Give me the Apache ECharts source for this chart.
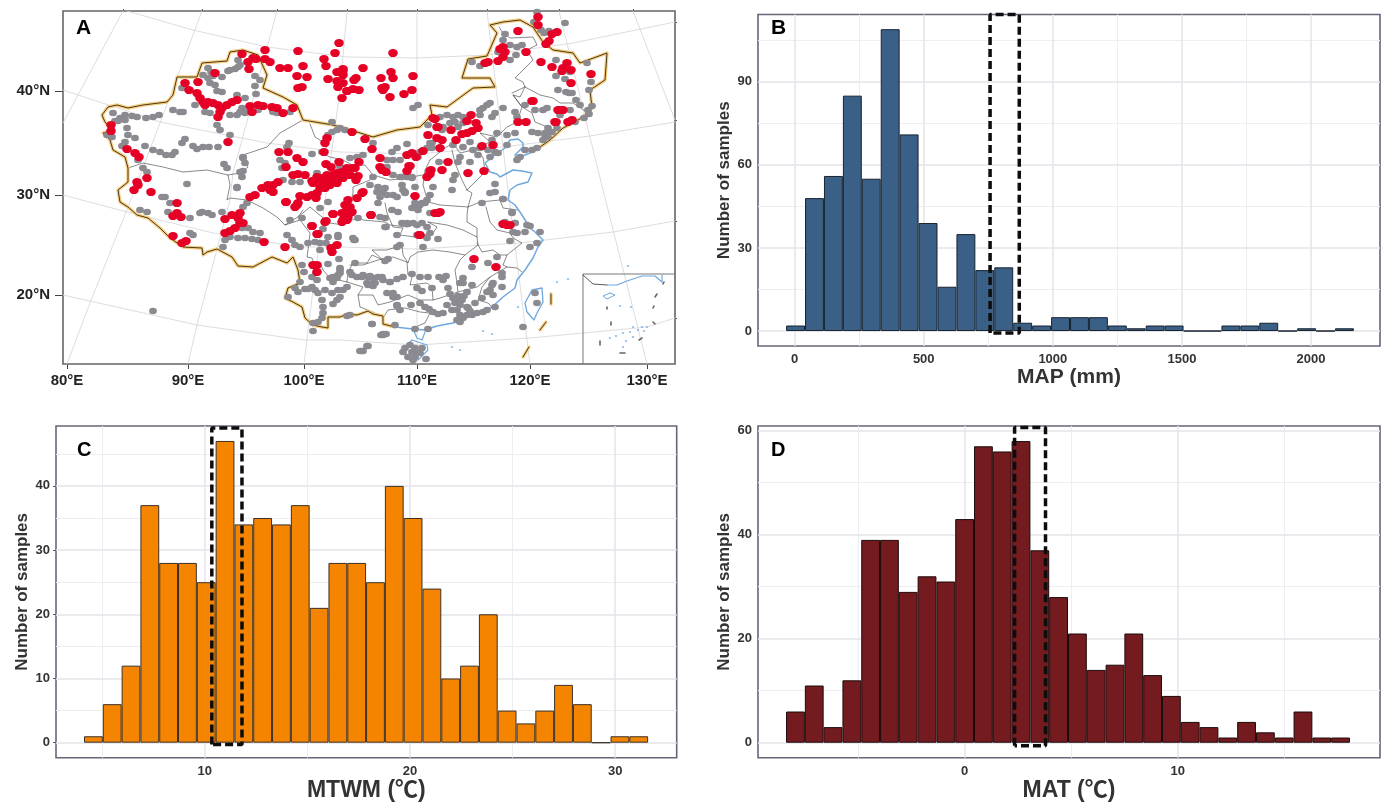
<!DOCTYPE html>
<html><head><meta charset="utf-8">
<style>html,body{margin:0;padding:0;background:#fff}#c{width:1386px;height:804px}</style>
<script src="https://cdn.jsdelivr.net/npm/echarts@6/dist/echarts.min.js"></script>
</head><body><div id="c"></div>
<script>
// ---------- histogram data (counts per bin) ----------
const mapCounts = [2,48,56,85,55,109,71,39,16,35,22,23,3,2,5,5,5,2,1,2,2,0,0,2,2,3,0,1,0,1];
const mtwmCounts = [1,6,12,37,28,28,25,47,34,35,34,37,21,28,28,25,40,35,24,10,12,20,5,3,5,9,6,0,1,1];
const matCounts = [6,11,3,12,39,39,29,32,31,43,57,56,58,37,28,21,14,15,21,13,9,4,3,1,4,2,1,6,1,1];
const mapFirstEdge = -33, mapBinWidth = 73.3;
const mtwmFirstEdge = 4.11, mtwmBinWidth = 0.9166;
const matFirstEdge = -8.37, matBinWidth = 0.8817;
const mapXTicks = [0,500,1000,1500,2000], mapYTicks = [0,30,60,90];
const mtwmXTicks = [10,20,30], mtwmYTicks = [0,10,20,30,40];
const matXTicks = [0,10], matYTicks = [0,20,40,60];
const mapBox = [[757,-0.7],[757,114.3],[870,114.3],[870,-0.7],[757,-0.7]];
const mtwmBox = [[10.34,-0.3],[10.34,49],[11.81,49],[11.81,-0.3],[10.34,-0.3]];
const matBox = [[2.35,-0.6],[2.35,60.6],[3.8,60.6],[3.8,-0.6],[2.35,-0.6]];

// ---------- map panel data, in projected map units ----------
const lonTicks = [67,188,304,417,530,647];
const lonLabels = ['80°E','90°E','100°E','110°E','120°E','130°E'];
const latTicks = [91,195,295];
const latLabels = ['40°N','30°N','20°N'];
const topTicks = [123,202,277,347,417,487,559,633];
const rightTicks = [22,120,221,318];

const graticule = [
 [[67,364],[90,303],[128,207],[160,123],[202,11]],
 [[188,364],[197,325],[230,200],[233,173],[277,11]],
 [[304,364],[313,290],[340,90],[347,11]],
 [[417,364],[417,190],[417,11]],
 [[530,364],[508,190],[487,11]],
 [[647,364],[603,190],[559,11]],
 [[633,11],[675,120]],
 [[63,123],[123,11]],
 [[127,11],[193,30],[267,47],[347,57],[417,58],[487,55],[573,43],[675,22]],
 [[63,90],[160,122],[267,143],[340,152],[417,154],[503,147],[590,136],[675,122]],
 [[63,195],[127,212],[213,233],[300,247],[340,247],[417,249],[520,243],[613,232],[675,221]],
 [[63,295],[197,325],[304,340],[340,340],[417,345],[530,338],[647,327],[675,318]]
];
const provinces = [
 [[128,168],[143,163],[163,167],[183,172],[207,170],[228,175],[230,185],[227,200],[230,198],[247,200],[263,208],[277,217],[285,225],[298,217],[303,210]],
 [[303,120],[280,133],[267,147],[243,155],[248,167],[240,173],[228,175]],
 [[310,124],[315,137],[328,145],[322,153],[330,157],[343,160],[352,165],[365,165],[373,175],[370,180],[353,187],[353,193],[352,197]],
 [[298,217],[310,207],[322,217],[330,223],[343,225],[358,217],[363,220],[385,222],[390,225],[407,227]],
 [[285,225],[300,220],[310,233],[308,250],[307,257],[312,258],[315,265],[312,275]],
 [[373,175],[390,180],[407,178],[422,175]],
 [[385,203],[387,213],[393,227],[403,228],[400,235],[415,237],[433,233],[437,227],[428,222]],
 [[402,245],[403,255],[408,263],[410,257],[418,252],[433,250],[450,252],[465,255],[478,245],[477,237],[463,230],[447,225],[428,222]],
 [[350,265],[363,265],[378,260],[393,257],[407,262],[408,275],[413,273],[410,285],[427,283],[432,287],[433,300],[440,298],[458,292],[457,283],[455,270],[460,260],[465,255]],
 [[320,263],[323,270],[330,278],[347,282],[348,272],[353,263],[367,263],[372,255],[383,260],[372,250],[375,250],[387,250],[402,245]],
 [[347,282],[363,287],[358,295],[373,295],[378,305],[390,302],[408,295],[420,300],[433,300]],
 [[358,295],[360,307],[373,312],[383,318],[388,310],[405,308],[420,312],[430,313],[425,323],[413,328]],
 [[458,292],[477,287],[490,277],[507,267],[517,268],[522,272]],
 [[490,277],[482,287],[478,300],[488,303],[495,310]],
 [[477,243],[482,252],[493,250],[500,255],[507,255],[503,265],[507,267]],
 [[507,255],[522,243],[513,238],[510,233],[497,230],[490,222],[486,207]],
 [[467,190],[472,193],[468,207],[480,202],[500,200],[503,208],[517,210]],
 [[468,207],[467,215],[467,222],[477,228],[477,237]],
 [[452,150],[455,163],[462,180],[467,190]],
 [[430,160],[425,170],[423,185],[428,202],[440,205],[468,207]],
 [[430,160],[445,148],[453,143],[460,153],[473,150],[483,157],[485,172],[467,190]],
 [[473,150],[490,142],[480,133],[497,137],[507,127],[517,122],[522,107],[513,95],[520,97],[525,87]],
 [[499,27],[503,33],[510,38],[533,37],[537,45],[527,50],[533,60],[523,70],[515,78],[523,82],[525,87],[512,93]],
 [[525,87],[540,95],[553,98],[560,103],[573,103],[588,113]],
 [[513,95],[522,107],[532,113],[535,122],[550,128]]
];
const nationalBorder = [[395,327],[383,324],[383,316],[373,314],[368,311],[357,315],[347,314],[340,317],[328,317],[328,328],[322,327],[313,325],[305,318],[302,307],[293,302],[285,298],[288,288],[300,283],[298,270],[293,257],[287,263],[272,257],[253,267],[238,266],[232,257],[217,249],[207,252],[203,255],[202,248],[183,247],[170,238],[160,228],[148,218],[137,215],[128,207],[120,202],[118,190],[120,188],[128,182],[128,168],[125,157],[113,150],[110,140],[103,133],[112,130],[105,122],[102,115],[108,107],[117,105],[128,108],[143,105],[167,102],[173,95],[177,77],[197,77],[202,63],[227,61],[230,52],[243,50],[258,55],[267,75],[263,88],[283,97],[297,105],[303,120],[333,125],[350,130],[357,132],[373,137],[397,130],[420,127],[432,115],[430,105],[447,107],[473,88],[495,87],[490,78],[462,78],[468,59],[487,56],[497,33],[490,25],[503,22],[520,20],[533,27],[543,42],[553,50],[573,53],[580,63],[607,53],[605,80],[590,90],[592,108],[583,117],[573,123],[563,128],[550,140],[540,147]];
const seaDashes = [[[551,294],[551,304]],[[540,330],[546,322]],[[523,357],[529,347]]];
const coastLine = [[540,147],[530,153],[525,155],[520,157],[517,160],[515,155],[523,147],[523,143],[518,139],[510,140],[505,148],[495,155],[485,163],[490,172],[497,174],[500,177],[513,170],[522,171],[532,173],[528,182],[517,185],[510,190],[508,200],[515,205],[522,215],[530,228],[535,232],[543,240],[538,247],[533,258],[525,270],[517,280],[515,288],[503,297],[492,307],[473,315],[453,323],[437,326],[425,330],[413,329],[395,327]];
const leizhou = [[413,329],[417,338],[422,340],[425,332]];
const hainan = [[412,340],[427,345],[428,350],[418,360],[407,358],[404,348],[412,340]];
const taiwan = [[525,303],[532,290],[542,288],[543,302],[537,313],[534,320],[527,312],[525,303]];
const insetFrame = [[583,364],[583,274],[675,274]];
const insetLand = [[583,275],[593,284],[607,285]];
const insetCoast = [[607,285],[617,285],[627,281],[642,276],[655,276],[662,282],[662,275]];
const insetIsland = [[610,293],[615,295],[607,299],[603,296],[610,293]];
const insetDashes = [[[663,284],[664,282]],[[655,297],[657,294]],[[653,308],[654,306]],[[607,309],[607,307]],[[611,325],[611,322]],[[600,345],[600,341]],[[620,353],[625,353]],[[642,338],[639,340]],[[655,324],[653,322]]];
const islands = [[620,306],[631,307],[633,327],[642,327],[647,327],[630,332],[623,333],[610,338],[633,337],[623,347],[483,331],[492,334],[452,347],[460,350],[518,307],[557,282],[568,279],[628,266],[638,330],[616,336],[626,341],[644,331]];

const graySites = [
[238,60],[240,65],[235,69],[230,70],[238,67],[228,71],[208,68],[211,72],[203,75],[208,78],[213,76],[222,77],[210,83],[215,85],[217,91],[222,92],[255,76],[260,80],[255,86],[256,94],[182,88],
[237,95],[245,98],[195,105],[205,112],[210,113],[230,115],[237,115],[242,108],[245,113],[258,110],[273,112],[277,113],[290,112],[217,125],[220,130],[173,110],[180,112],[183,112],
[113,113],[115,121],[120,118],[125,115],[132,116],[137,117],[118,121],[125,120],[146,118],[153,117],[159,115],[127,128],[107,135],[112,137],[128,135],[135,138],[125,142],[122,146],[138,160],[145,146],[153,150],[160,152],[166,155],[172,155],[175,152],[182,143],[185,139],[193,146],[197,149],[203,147],[209,147],[218,147],[230,135],[224,164],[227,168],[243,157],[243,171],[237,187],[187,184],[162,197],[165,197],[143,168],[147,172],
[140,210],[147,212],[170,203],[168,212],[190,218],[200,213],[202,212],[208,213],[212,215],[222,212],[193,235],[190,233],[153,311],[313,331],
[247,203],[243,207],[242,228],[248,228],[253,232],[260,233],[225,240],[223,247],[230,237],[238,238],[245,238],[252,239],[258,240],[287,235],[292,240],[295,245],[300,247],[308,243],[315,242],[320,243],[326,243],[323,229],[328,237],[338,237],[320,250],[339,259],
[302,265],[304,272],[300,282],[295,288],[288,297],[298,292],[312,277],[317,280],[312,287],[315,290],[318,293],[322,300],[323,307],[323,313],[322,318],[318,322],[313,323],[305,289],[308,289],[325,290],[332,293],[338,290],[343,290],[340,297],[333,304],[337,300],[347,287],[340,270],[338,275],[347,316],[333,277],[350,272],[328,264],
[350,315],[372,324],[383,335],[381,335],[362,351],[368,346],[340,268],[340,273],[337,278],[333,282],[330,278],[355,263],[362,277],[368,277],[373,278],[382,277],[390,282],[367,283],[373,286],[387,293],[393,297],[397,305],[355,240],
[354,240],[386,227],[408,224],[400,245],[397,247],[423,247],[438,239],[427,238],[430,233],[420,277],[428,277],[439,277],[446,276],[443,280],[388,259],[385,261],[412,274],[403,277],[397,279],[390,282],[383,280],[378,277],[370,276],[363,275],[357,277],[352,275],[370,284],[375,283],[368,285],[393,293],[397,297],[417,288],[422,291],[432,288],
[448,288],[450,294],[453,298],[457,300],[462,300],[463,278],[463,283],[467,292],[460,283],[472,285],[475,303],[482,298],[447,305],[460,305],[467,307],[457,310],[452,310],[460,315],[467,315],[472,315],[463,318],[457,320],[460,322],[477,313],[468,308],[455,303],[458,296],[464,296],[470,311],
[397,306],[400,310],[411,305],[420,303],[425,307],[433,312],[438,314],[443,313],[429,309],[395,325],[372,324],[383,334],[386,334],[415,329],[428,329],[367,346],[363,351],[360,351],
[405,348],[410,345],[415,348],[422,348],[403,352],[412,352],[418,353],[408,357],[415,357],[413,360],[420,353],[426,359],
[472,267],[493,283],[490,290],[493,295],[502,287],[497,257],[488,263],[502,273],[502,277],[492,285],[487,292],[495,307],[487,310],[483,312],
[510,241],[517,233],[513,232],[527,225],[540,232],[537,243],[530,247],[525,232],[512,213],[515,223],[530,226],[503,199],[523,327],[535,293],[537,303],
[240,112],[247,112],[273,110],[332,122],[337,130],[340,128],[332,132],[328,135],[345,130],[289,143],[287,147],[325,142],[322,152],[312,154],[243,158],[245,163],[240,172],[242,177],[237,188],[280,160],[285,163],[282,168],[283,180],[292,182],[300,182],[317,173],[340,167],[350,158],[357,157],[363,155],[373,143],
[392,152],[397,148],[407,144],[430,143],[427,148],[420,152],[387,160],[393,160],[400,160],[387,167],[393,175],[400,177],[407,177],[412,177],[373,177],[370,185],[378,187],[385,188],[377,192],[383,192],[387,195],[393,195],[397,197],[403,190],[405,193],[402,185],[380,197],[378,203],[422,203],[427,200],[417,207],[433,187],[430,195],
[320,208],[328,202],[380,217],[385,218],[392,210],[398,212],[407,223],[430,213],[427,227],[417,225],[385,227],[417,235],[397,235],[338,235],[353,238],[358,218],[302,218],[290,220],
[413,108],[418,105],[428,125],[433,118],[440,117],[447,115],[453,117],[458,115],[463,117],[455,122],[450,123],[443,127],[442,130],[458,127],[463,123],[480,115],[483,108],[487,105],[490,103],[480,110],[492,117],[495,113],[503,108],[515,112],[517,117],[525,105],[543,110],[547,108],[532,132],[538,133],[545,135],[552,132],[557,128],[515,133],[507,135],[507,145],[497,133],[492,140],[488,150],[495,152],[498,153],[490,157],[525,150],[532,150],[537,148],[520,157],[517,160],[543,140],[548,137],[432,143],[432,148],[453,145],[470,142],[463,147],[460,157],[458,162],[473,150],[478,155],[480,148],[470,162],[439,162],[455,175],[453,180],[418,157],[402,177],[412,178],[415,187],[405,192],[420,205],[425,203],[415,203],[452,190],[495,184],[495,192],[490,193],[503,199],[512,212],[505,222],[515,223],[482,203],[418,210],[412,208],[413,223],[422,223],[402,223],
[503,40],[510,45],[498,52],[505,34],[522,45],[517,47],[534,22],[537,12],[541,30],[565,23],[549,31],[544,33],[556,60],[556,76],[565,79],[570,72],[558,90],[566,92],[569,93],[587,63],[591,82],[589,90],[576,100],[572,93],[580,105],[588,110],[592,106],[589,114],[570,110],[535,110],[560,115],[575,122],[584,118],[548,128],[545,133],[472,62],[480,66],[510,60],[516,55]
];
const redSites = [
[242,54],[248,62],[253,58],[256,59],[265,50],[265,59],[270,62],[249,69],[280,68],[288,68],[298,51],[303,66],[297,76],[307,77],[298,88],[302,87],[324,59],[326,66],[335,53],[339,43],[328,79],[337,72],[343,69],[343,75],[337,81],[343,83],[338,87],[347,91],[342,98],[215,73],[185,83],[198,82],
[189,90],[197,93],[200,98],[203,102],[208,102],[205,105],[213,103],[218,105],[222,108],[227,105],[232,102],[237,100],[220,112],[218,117],[250,106],[258,105],[263,106],[252,112],[272,107],[277,108],[283,113],[293,108],[228,142],
[111,125],[111,131],[127,149],[135,153],[139,157],[147,178],[137,182],[138,185],[134,190],[151,192],
[177,203],[177,213],[173,216],[181,217],[173,236],[182,243],[186,241],
[225,219],[232,215],[240,213],[238,218],[240,223],[243,223],[235,228],[230,231],[225,233],[264,242],[285,247],[286,202],[297,205],[312,226],[317,234],[313,265],[317,265],[317,272],[337,245],[332,252],[331,248],[325,222],[333,214],
[352,132],[365,139],[372,149],[327,138],[325,143],[324,152],[279,152],[288,152],[297,158],[303,162],[286,167],[326,164],[331,167],[339,162],[359,162],[293,175],[298,174],[305,175],
[312,181],[317,177],[322,178],[327,175],[332,175],[337,173],[342,172],[347,168],[352,168],[355,168],[347,173],[350,175],[358,176],[356,180],[343,178],[338,178],[333,180],[328,182],[323,182],[318,182],[313,183],[337,183],[330,185],[325,188],[320,188],[317,193],[312,195],[307,197],[300,196],[316,198],[278,182],[273,185],[268,185],[262,188],[270,190],[273,192],[255,195],[250,197],[286,202],[298,203],[295,207],
[363,192],[357,198],[348,200],[345,205],[350,207],[347,210],[352,212],[342,213],[333,214],[348,217],[343,220],[347,220],[342,222],[371,215],[326,221],[312,226],[318,234],[415,196],[419,235],[380,158],[380,167],[382,170],[386,172],[407,155],[412,153],[416,157],[423,151],[410,166],[407,171],[430,171],[427,177],[435,213],[440,212],[433,118],[437,127],[428,135],
[435,119],[438,127],[437,138],[442,140],[451,130],[440,148],[462,134],[467,121],[471,115],[476,123],[478,128],[472,131],[467,133],[456,140],[482,146],[493,145],[448,162],[442,170],[431,170],[430,174],[468,173],[484,171],[438,213],[518,122],[526,122],[555,122],[568,122],[560,110],[563,110],[532,101],[409,166],[503,224],[507,225],[510,225],
[538,17],[538,25],[518,31],[552,34],[557,32],[549,41],[546,44],[503,47],[500,49],[505,52],[503,57],[498,61],[488,62],[485,63],[526,52],[541,62],[552,67],[567,63],[563,68],[562,71],[571,70],[591,74],[571,83],[393,53],[363,68],[391,72],[393,78],[381,78],[413,76],[356,78],[354,80],[343,71],[353,89],[359,90],[347,91],[382,88],[385,87],[383,90],[390,97],[404,94],[412,90],[533,101],[558,110],[556,122],[572,120],[420,235],[504,224],[474,259],[496,267],[371,215],[362,193]
];

// ---------- helpers ----------
const sans = "'Liberation Sans','Noto Sans CJK SC',sans-serif";
const panelStroke = '#66667a';
const grids = [], xAxes = [], yAxes = [], series = [];

function mapLine(data, color, width, z, opacity) {
  series.push({type:'line', xAxisIndex:0, yAxisIndex:0, data, symbol:'none', silent:true, animation:false, z,
    lineStyle:{color, width, opacity: opacity==null?1:opacity, join:'round', cap:'round'}});
}

function addHistogram(idx, cfg) {
  grids.push({left:cfg.left, top:cfg.top, width:cfg.width, height:cfg.height, show:true, borderColor:panelStroke, borderWidth:1.6, backgroundColor:'#fff', z:1, outerBoundsMode:'none'});
  const lab = {color:'#333', fontFamily:sans, fontWeight:'bold', fontSize:13, formatter:v=>String(v)};
  xAxes.push({type:'value', gridIndex:idx, min:cfg.xMin, max:cfg.xMax, name:cfg.xName, nameLocation:'center', nameGap:21,
    nameTextStyle:{fontFamily:sans, fontWeight:'bold', fontSize:cfg.xNameSize, color:'#333'},
    axisLine:{show:false}, axisTick:{show:true,length:3,customValues:cfg.xTicks,lineStyle:{color:'#555'}},
    axisLabel:Object.assign({margin:7,customValues:cfg.xTicks},lab), splitLine:{show:false}});
  yAxes.push({type:'value', gridIndex:idx, min:cfg.yMin, max:cfg.yMax, name:'Number of samples', nameLocation:'center', nameGap:cfg.yGap,
    nameTextStyle:{fontFamily:sans, fontWeight:'bold', fontSize:17, color:'#333'},
    axisLine:{show:false}, axisTick:{show:true,length:3,customValues:cfg.yTicks,lineStyle:{color:'#555'}},
    axisLabel:Object.assign({margin:6,customValues:cfg.yTicks},lab), splitLine:{show:false}});
  // grid lines, beneath the bars
  const gridLine = (vals, key, color, width) => vals.map(v => ({[key]:v, lineStyle:{color, width, type:'solid'}}));
  series.push({type:'line', xAxisIndex:idx, yAxisIndex:idx, data:[], silent:true, animation:false, z:1,
    markLine:{silent:true, z:1, symbol:'none', animation:false, label:{show:false},
      data: [].concat(
        gridLine(cfg.xMinor,'xAxis','#eeeef2',1), gridLine(cfg.yMinor,'yAxis','#eeeef2',1),
        gridLine(cfg.xTicks,'xAxis','#e4e4ea',1.5), gridLine(cfg.yTicks,'yAxis','#e4e4ea',1.5))}});
  series.push({type:'bar', xAxisIndex:idx, yAxisIndex:idx, barWidth:cfg.barPx, animation:false, z:3,
    data: cfg.counts.map((c,i)=>[cfg.first + (i+0.5)*cfg.bw, c]),
    itemStyle:{color:cfg.fill, borderColor:cfg.edge, borderWidth:1}});
  series.push({type:'line', xAxisIndex:idx, yAxisIndex:idx, data:cfg.box, symbol:'none', clip:false, silent:true, animation:false, z:5,
    lineStyle:{color:'#0d0d0d', width:3.5, type:[8,4]}});
}

// ---------- panel A ----------
grids.push({left:63, top:11, width:612, height:353, show:true, borderColor:'#666', borderWidth:1.6, backgroundColor:'#fff', z:1, outerBoundsMode:'none'});
const mapLab = {color:'#222', fontFamily:sans, fontWeight:'bold', fontSize:15};
xAxes.push({type:'value', gridIndex:0, min:63, max:675, position:'bottom', axisLine:{show:false}, splitLine:{show:false},
  axisTick:{show:true,length:5,customValues:lonTicks,lineStyle:{color:'#444'}},
  axisLabel:Object.assign({margin:9,customValues:lonTicks,formatter:v=>lonLabels[lonTicks.indexOf(v)]||''},mapLab)});
yAxes.push({type:'value', gridIndex:0, min:11, max:364, inverse:true, position:'left', axisLine:{show:false}, splitLine:{show:false},
  axisTick:{show:true,length:8,customValues:latTicks,lineStyle:{color:'#444'}},
  axisLabel:Object.assign({margin:13,customValues:latTicks,formatter:v=>latLabels[latTicks.indexOf(v)]||''},mapLab)});

graticule.forEach(l=>mapLine(l,'#d4d4d8',0.8,2));
provinces.forEach(l=>mapLine(l,'#3a3a3a',0.6,3));
mapLine(coastLine,'#6fa8e0',1.5,3);
mapLine(leizhou,'#6fa8e0',1.2,3);
mapLine(hainan,'#6fa8e0',1.2,3);
mapLine(taiwan,'#6fa8e0',1.3,3);
mapLine(nationalBorder,'#f6cf85',3.4,4);
mapLine(nationalBorder,'#4a3a18',1,4);
seaDashes.forEach(l=>{mapLine(l,'#f6cf85',3.4,4);mapLine(l,'#4a3a18',1,4);});
mapLine(insetFrame,'#777',1,4);
mapLine(insetLand,'#444',0.9,4);
mapLine(insetCoast,'#6fa8e0',1.2,4);
mapLine(insetIsland,'#6fa8e0',1,4);
insetDashes.forEach(l=>mapLine(l,'#666',1.6,4));
series.push({type:'scatter', xAxisIndex:0, yAxisIndex:0, data:islands, symbol:'circle', symbolSize:[2.5,1.6], silent:true, animation:false, z:4, itemStyle:{color:'#6fa8e0',opacity:1}});
series.push({type:'scatter', xAxisIndex:0, yAxisIndex:0, data:graySites, symbol:'circle', symbolSize:[7.8,6.6], silent:true, animation:false, z:5, itemStyle:{color:'#8a8a90',opacity:1}});
series.push({type:'scatter', xAxisIndex:0, yAxisIndex:0, data:redSites, symbol:'circle', symbolSize:[9.6,8.2], silent:true, animation:false, z:6, itemStyle:{color:'#e60026',opacity:1}});

// hidden-label axes carrying the top and right ticks of the map frame
grids.push({left:63, top:11, width:612, height:353, z:1, outerBoundsMode:'none'});
xAxes.push({type:'value', gridIndex:1, min:63, max:675, position:'top', axisLine:{show:false}, splitLine:{show:false}, axisLabel:{show:false},
  axisTick:{show:true,length:2,customValues:topTicks,lineStyle:{color:'#555'}}});
yAxes.push({type:'value', gridIndex:1, min:11, max:364, inverse:true, position:'right', axisLine:{show:false}, splitLine:{show:false}, axisLabel:{show:false},
  axisTick:{show:true,length:2,customValues:rightTicks,lineStyle:{color:'#555'}}});

// ---------- panels B, C, D ----------
addHistogram(2,{left:758,top:14.5,width:622,height:331.5,xMin:-141.8,xMax:2267,yMin:-5.4,yMax:114.3,yGap:25,xTicks:mapXTicks,yTicks:mapYTicks,
  xName:'MAP (mm)',xNameSize:21,xMinor:[250,750,1250,1750],yMinor:[15,45,75,105],counts:mapCounts,first:mapFirstEdge,bw:mapBinWidth,barPx:18.9,
  fill:'#3a6088',edge:'#17222f',box:mapBox});
addHistogram(3,{left:56,top:426,width:620.7,height:331.7,xMin:2.745,xMax:33,yMin:-2.34,yMax:49.33,yGap:25,xTicks:mtwmXTicks,yTicks:mtwmYTicks,
  xName:'MTWM (℃)',xNameSize:23,xMinor:[5,15,25],yMinor:[5,15,25,35,45],counts:mtwmCounts,first:mtwmFirstEdge,bw:mtwmBinWidth,barPx:18.8,
  fill:'#f58500',edge:'#3b3027',box:mtwmBox});
addHistogram(4,{left:758,top:426,width:622,height:331.7,xMin:-9.686,xMax:19.49,yMin:-2.88,yMax:60.9,yGap:25,xTicks:matXTicks,yTicks:matYTicks,
  xName:'MAT (℃)',xNameSize:23,xMinor:[-5,5,15],yMinor:[10,30,50],counts:matCounts,first:matFirstEdge,bw:matBinWidth,barPx:18.8,
  fill:'#741b20',edge:'#1c0a0a',box:matBox});

const letters = [['A',76,18,21],['B',771,18,21],['C',77,440,20],['D',771,440,20]];
const chart = echarts.init(document.getElementById('c'), null, {renderer:'canvas'});
chart.setOption({
  animation:false,
  backgroundColor:'#fff',
  title: letters.map(l=>({text:l[0], left:l[1], top:l[2], padding:0, textStyle:{fontFamily:sans, fontWeight:'bold', fontSize:l[3], color:'#000'}})),
  grid:grids, xAxis:xAxes, yAxis:yAxes, series
});
</script></body></html>
